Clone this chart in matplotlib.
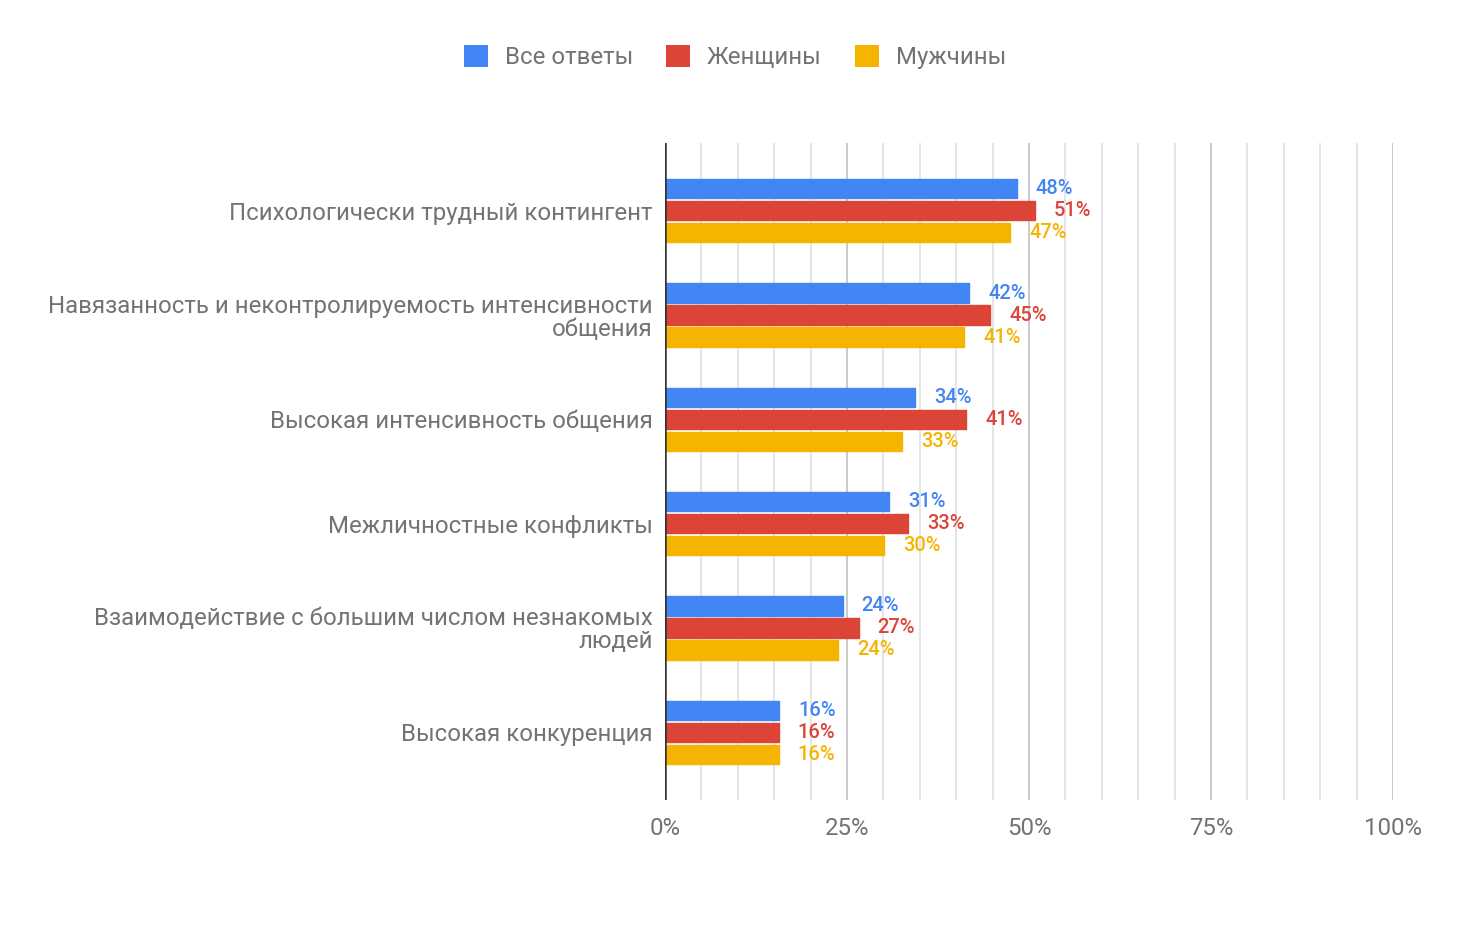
import matplotlib
matplotlib.use("Agg")
import matplotlib.pyplot as plt
from matplotlib.patches import Patch
import numpy as np

plt.rcParams['font.family'] = ['Roboto', 'DejaVu Sans']

categories = [
    "Психологически трудный контингент",
    "Навязанность и неконтролируемость интенсивности\nобщения",
    "Высокая интенсивность общения",
    "Межличностные конфликты",
    "Взаимодействие с большим числом незнакомых\nлюдей",
    "Высокая конкуренция",
]
series_names = ["Все ответы", "Женщины", "Мужчины"]
all_answers = [48.3, 41.8, 34.4, 30.8, 24.4, 15.7]
women = [50.8, 44.7, 41.4, 33.4, 26.6, 15.6]
men = [47.4, 41.1, 32.6, 30.1, 23.8, 15.6]
x_ticks = [0, 25, 50, 75, 100]
x_tick_labels = ["0%", "25%", "50%", "75%", "100%"]

colors = ["#4285F4", "#DB4437", "#F4B400"]
text_gray = "#737373"

fig = plt.figure(figsize=(14.7, 9.25), dpi=100)
ax = fig.add_axes([665/1470, 125/925, 728/1470, 657/925])

y = np.arange(len(categories))
slot = 0.2115
bar_h = 0.185
for i, (vals, c) in enumerate(zip([all_answers, women, men], colors)):
    pos = y + (i - 1) * slot
    ax.barh(pos, vals, height=bar_h, color=c, edgecolor=c, linewidth=1.0,
            joinstyle="round", zorder=3, label=series_names[i])
    for p, v in zip(pos, vals):
        ax.annotate(f"{round(v)}%", xy=(v, p), xytext=(13.7, 0), textcoords="offset points",
                    ha="left", va="center", color=c, fontsize=14.5, fontweight="medium", zorder=4)

ax.set_xlim(0, 100)
ax.set_ylim(len(categories) - 1 + 0.65, -0.65)

# grid
for gx in range(5, 100, 5):
    col = "#c6c6c6" if gx % 25 == 0 else "#e3e3e3"
    ax.axvline(gx, color=col, lw=1.3, zorder=1)
ax.axvline(100, color="#c6c6c6", lw=1.3, zorder=1)
ax.axvline(0, color="#333333", lw=1.8, zorder=5)

ax.set_xticks(x_ticks)
ax.set_xticklabels(x_tick_labels, color=text_gray, fontsize=17.3)
ax.set_yticks(y)
ax.set_yticklabels(categories, color=text_gray, fontsize=17.3, linespacing=1.0)
ax.tick_params(axis="both", length=0)
ax.tick_params(axis="y", pad=9)
ax.tick_params(axis="x", pad=12)
for s in ax.spines.values():
    s.set_visible(False)

handles = [Patch(facecolor=c, edgecolor="none") for c in colors]
fig.legend(handles, series_names, loc="center", bbox_to_anchor=(735/1470, 1 - 57/925),
           ncol=3, frameon=False, fontsize=17.3, handlelength=1.0, handleheight=1.0,
           handletextpad=0.68, columnspacing=1.4, labelcolor=text_gray)

fig.savefig("out.png", dpi=100, facecolor="white")
